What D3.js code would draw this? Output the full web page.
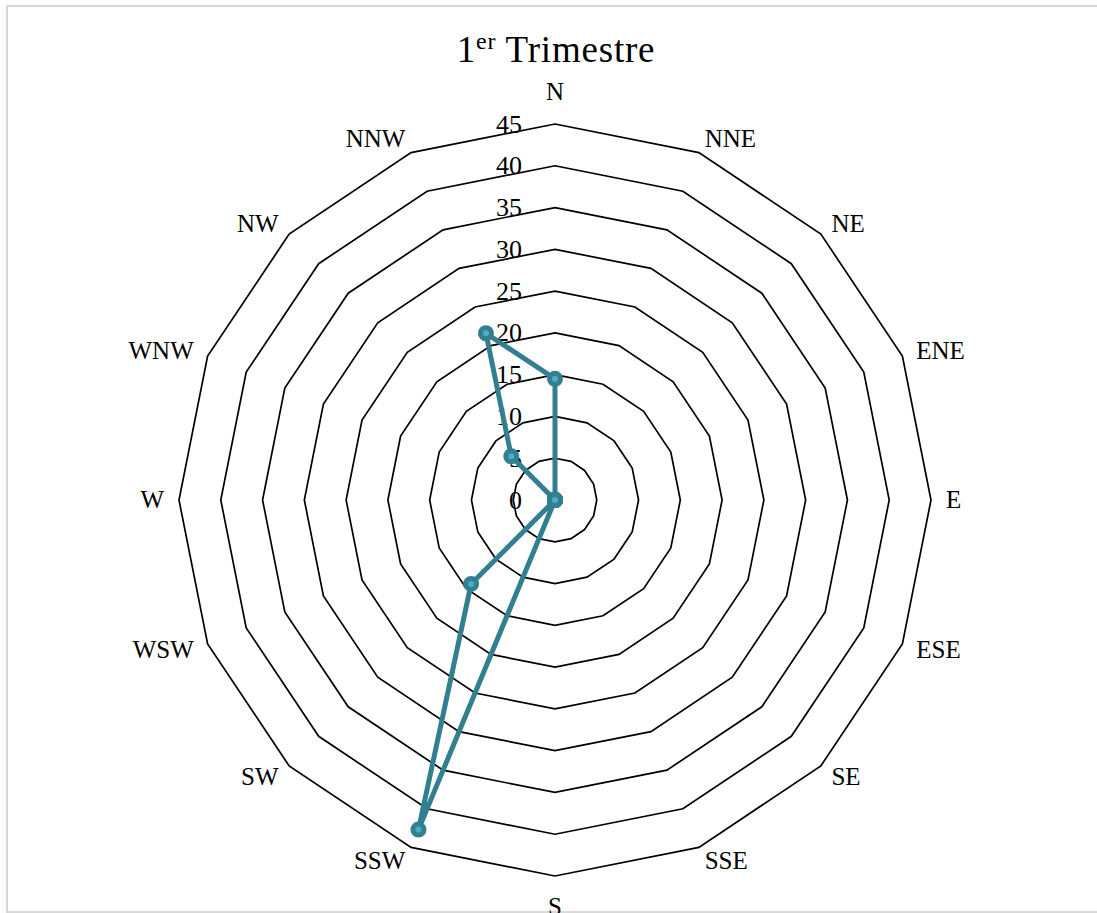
<!DOCTYPE html>
<html>
<head>
<meta charset="utf-8">
<script src="https://cdn.jsdelivr.net/npm/d3@7"></script>
<style>
  html, body { margin: 0; padding: 0; background: #fff; }
  svg { display: block; }
  text { font-family: "Liberation Serif", "Times New Roman", serif; fill: #000; }
</style>
</head>
<body>
<svg id="chart" width="1097" height="913"></svg>
<script>
// ---- data ----
const directions = ["N","NNE","NE","ENE","E","ESE","SE","SSE","S","SSW","SW","WSW","W","WNW","NW","NNW"];
const values = [14.5, 0, 0, 0, 0, 0, 0, 0, 0, 42.7, 14.2, 0, 0, 0, 7.4, 21.6];
const tickValues = [0, 5, 10, 15, 20, 25, 30, 35, 40, 45];
const titleMain = "1";
const titleSup = "er";
const titleRest = " Trimestre";

// ---- layout ----
const W = 1097, H = 913;
const cx = 555, cy = 500, R = 376;
const svg = d3.select("#chart");

svg.append("rect").attr("x", 7).attr("y", 6).attr("width", 1100).attr("height", 906)
  .attr("fill", "#fff").attr("stroke", "#d9d9d9").attr("stroke-width", 2);

const r = d3.scaleLinear().domain([0, 45]).range([0, R]);
const angle = d3.scalePoint().domain(directions).range([0, 2 * Math.PI * (directions.length - 1) / directions.length]);

const g = svg.append("g").attr("transform", `translate(${cx},${cy})`);

// rings
const ringLine = d3.lineRadial().angle(d => angle(d)).curve(d3.curveLinearClosed);
tickValues.filter(v => v > 0).forEach(v => {
  g.append("path")
    .attr("d", ringLine.radius(() => r(v))(directions))
    .attr("fill", "none").attr("stroke", "#000").attr("stroke-width", 1.7);
});

// tick labels
g.selectAll("text.tick").data(tickValues).enter().append("text")
  .attr("class", "tick")
  .attr("x", -33).attr("y", d => -r(d))
  .attr("dy", "0.33em")
  .attr("text-anchor", "end")
  .attr("font-size", 26)
  .text(d => d);

// direction labels
const pad = 15;
directions.forEach(d => {
  const a = angle(d);
  const s = Math.sin(a), c = Math.cos(a);
  const px = (R + pad) * s, py = -(R + pad) * c;
  let anchor = "middle", y = py, dy = "0.33em";
  if (s > 0.01) anchor = "start";
  else if (s < -0.01) anchor = "end";
  if (Math.abs(s) <= 0.01) {
    if (c > 0) { y = py - 9; dy = "0"; }
    else { y = py + 6; dy = "0.71em"; }
  }
  g.append("text").attr("x", px).attr("y", y).attr("dy", dy)
    .attr("text-anchor", anchor).attr("font-size", 25).text(d);
});

// series
const pts = directions.map((d, i) => ({ d, v: values[i] }));
const seriesLine = d3.lineRadial().angle(p => angle(p.d)).radius(p => r(p.v)).curve(d3.curveLinearClosed);
const teal = "#327f90";
g.append("path").attr("d", seriesLine(pts))
  .attr("fill", "none").attr("stroke", teal).attr("stroke-width", 5).attr("stroke-linejoin", "round");

g.selectAll("circle.pt").data(pts).enter().append("circle")
  .attr("class", "pt")
  .attr("cx", p => r(p.v) * Math.sin(angle(p.d)))
  .attr("cy", p => -r(p.v) * Math.cos(angle(p.d)))
  .attr("r", 5.5)
  .attr("fill", "#4bacc6").attr("stroke", teal).attr("stroke-width", 5);

// title
const t = svg.append("text").attr("x", 556).attr("y", 62).attr("text-anchor", "middle")
  .attr("font-size", 37).attr("letter-spacing", "0.8px");
t.append("tspan").text(titleMain);
t.append("tspan").attr("font-size", 24).attr("dy", -13).text(titleSup);
t.append("tspan").attr("dy", 13).text(titleRest);
</script>
</body>
</html>
